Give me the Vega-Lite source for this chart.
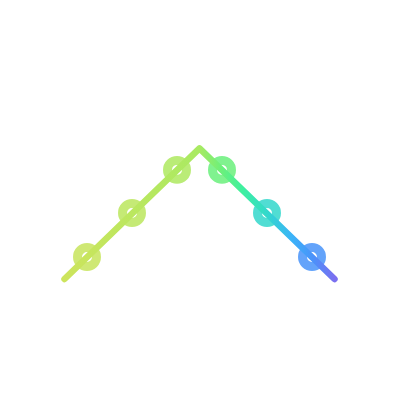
{
  "$schema": "https://vega.github.io/schema/vega-lite/v6.json",
  "width": 400,
  "height": 400,
  "padding": 0,
  "autosize": {"type": "none"},
  "background": "white",
  "config": {"view": {"stroke": null}},
  "layer": [
    {
      "data": {"values": [
        {"x": 1, "y": 0.5},
        {"x": 2, "y": 1.5},
        {"x": 3, "y": 2.48},
        {"x": 4, "y": 2.48},
        {"x": 5, "y": 1.5},
        {"x": 6, "y": 0.5}
      ]},
      "mark": {"type": "point", "filled": false, "size": 360, "strokeWidth": 9, "opacity": 0.85},
      "encoding": {
        "x": {"field": "x", "type": "quantitative", "axis": null, "scale": {"domain": [-0.9333, 7.9556], "nice": false, "zero": false}},
        "y": {"field": "y", "type": "quantitative", "axis": null, "scale": {"domain": [-2.75, 6.341], "nice": false, "zero": false}},
        "color": {
          "field": "x",
          "type": "quantitative",
          "legend": null,
          "scale": {
            "domain": [0.5, 3.5, 3.98, 4.46, 5.0, 5.54, 6.02, 6.5],
            "range": ["#cde45c", "#a9ea62", "#6cf07a", "#3ef0a0", "#33d8cc", "#3bb4f8", "#4a92fa", "#7b6ff0"]
          }
        }
      }
    },
    {
      "data": {"values": [
        {"x": 0.5, "y": 0},
        {"x": 3.5, "y": 2.97},
        {"x": 6.5, "y": 0}
      ]},
      "mark": {
        "type": "line",
        "strokeWidth": 6.5,
        "strokeCap": "round",
        "strokeJoin": "round",
        "color": {
          "gradient": "linear",
          "x1": 0, "x2": 1, "y1": 0, "y2": 0,
          "stops": [
            {"offset": 0, "color": "#cde45c"},
            {"offset": 0.5, "color": "#a9ea62"},
            {"offset": 0.58, "color": "#6cf07a"},
            {"offset": 0.66, "color": "#3ef0a0"},
            {"offset": 0.75, "color": "#33d8cc"},
            {"offset": 0.84, "color": "#3bb4f8"},
            {"offset": 0.92, "color": "#4a92fa"},
            {"offset": 1, "color": "#7b6ff0"}
          ]
        }
      },
      "encoding": {
        "x": {"field": "x", "type": "quantitative", "axis": null, "scale": {"domain": [-0.9333, 7.9556], "nice": false, "zero": false}},
        "y": {"field": "y", "type": "quantitative", "axis": null, "scale": {"domain": [-2.75, 6.341], "nice": false, "zero": false}}
      }
    }
  ]
}
